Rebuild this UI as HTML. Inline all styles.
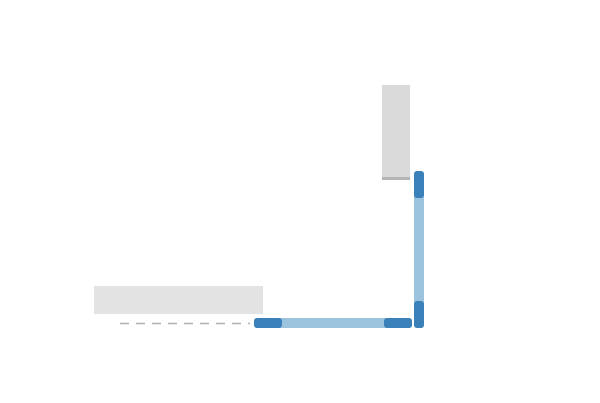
<!DOCTYPE html>
<html><head><style>
body{margin:0;width:600px;height:403px;background:#fff;position:relative;overflow:hidden}
div{position:absolute}
</style></head><body>
<div style="left:94px;top:286px;width:169px;height:28px;background:#e3e3e3"></div>
<div style="left:382px;top:85px;width:28px;height:93px;background:#dadada"></div>
<div style="left:382px;top:177px;width:28px;height:3px;background:#b5b5b5"></div>
<svg width="600" height="403" style="position:absolute;left:0;top:0">
<line x1="120" y1="323.5" x2="250" y2="323.5" stroke="#b0b0b0" stroke-width="1.5" stroke-dasharray="9,7"/>
</svg>
<div style="left:254px;top:318px;width:158px;height:10px;background:#9cc3de;border-radius:3px"></div>
<div style="left:254px;top:318px;width:28px;height:10px;background:#3a80b9;border-radius:3px"></div>
<div style="left:384px;top:318px;width:28px;height:10px;background:#3a80b9;border-radius:3px"></div>
<div style="left:414px;top:171px;width:10px;height:157px;background:#9cc3de;border-radius:3px"></div>
<div style="left:414px;top:171px;width:10px;height:27px;background:#3a80b9;border-radius:3px"></div>
<div style="left:414px;top:301px;width:10px;height:27px;background:#3a80b9;border-radius:3px"></div>
</body></html>
